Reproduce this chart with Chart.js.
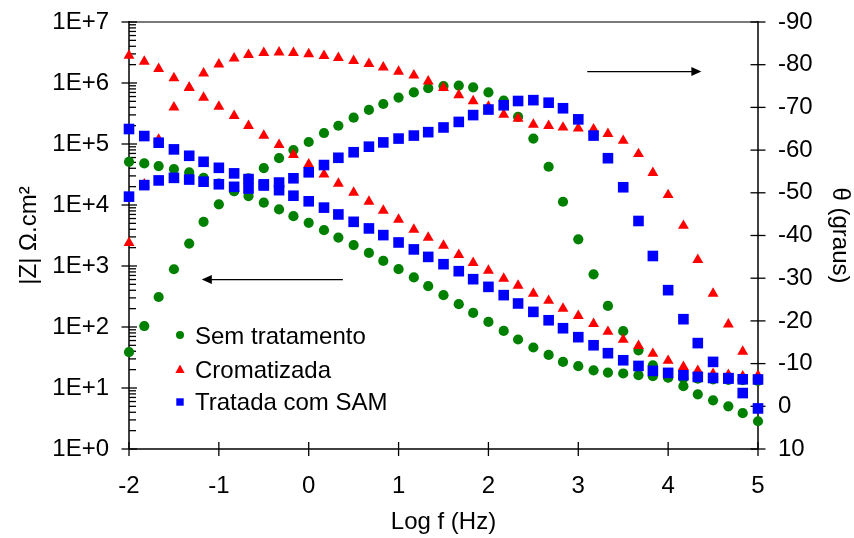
<!DOCTYPE html>
<html>
<head>
<meta charset="utf-8">
<script src="https://cdn.jsdelivr.net/npm/chart.js@4.4.1/dist/chart.umd.min.js"></script>
<style>
html,body{margin:0;padding:0;background:#fff;}
#wrap{width:854px;height:538px;position:relative;}
</style>
</head>
<body>
<div id="wrap"><canvas id="c" width="854" height="538"></canvas></div>
<script>
// ---- data (log frequency, |Z| in ohm.cm2, phase in degrees) ----
const logF = [-2.00,-1.83,-1.67,-1.50,-1.33,-1.17,-1.00,-0.83,-0.67,-0.50,-0.33,-0.17,0.00,0.17,0.33,0.50,0.67,0.83,1.00,1.17,1.33,1.50,1.67,1.83,2.00,2.17,2.33,2.50,2.67,2.83,3.00,3.17,3.33,3.50,3.67,3.83,4.00,4.17,4.33,4.50,4.67,4.83,5.00];

const zSem = [5.11e4,4.81e4,4.34e4,3.88e4,3.42e4,2.79e4,2.24e4,1.69e4,1.40e4,1.09e4,8460,6570,5100,3870,2920,2200,1640,1210,887,649,467,333,237,170,121,86.3,62.4,46.1,34.8,26.8,22.8,19.5,17.9,17.3,16.2,15.6,14.9,14.5,14.2,13.9,13.6,13.4,13.1];
const pSem = [-12.7,-18.8,-25.6,-32.1,-38.1,-43.2,-47.3,-50.4,-53.4,-55.8,-58.1,-60.0,-61.9,-64.0,-65.7,-67.6,-69.4,-70.8,-72.3,-73.5,-74.5,-75.0,-75.1,-74.7,-73.5,-71.6,-67.8,-62.7,-56.1,-47.9,-39.1,-30.9,-23.5,-17.6,-13.1,-9.6,-6.7,-4.7,-2.8,-1.4,0.0,1.6,3.5];

const zCrom = [2.82e6,2.25e6,1.71e6,1.20e6,8.42e5,5.78e5,4.11e5,2.89e5,1.98e5,1.37e5,9.68e4,6.63e4,4.65e4,3.18e4,2.24e4,1.60e4,1.14e4,8090,5750,3940,2920,2160,1530,1130,839,620,476,352,270,200,153,113,83.7,61.9,49.3,36.5,28.0,22.3,19.2,17.1,16.5,15.6,15.3];
const pCrom = [-38.3,-52.0,-62.5,-70.0,-74.6,-78.0,-80.1,-81.5,-82.3,-82.8,-82.9,-82.8,-82.5,-82.1,-81.6,-80.9,-80.2,-79.4,-78.4,-77.5,-76.1,-74.6,-72.9,-71.5,-70.2,-68.3,-67.4,-66.0,-65.7,-65.3,-65.1,-64.9,-63.8,-62.2,-59.1,-54.7,-49.5,-42.3,-34.3,-26.4,-19.2,-12.8,-7.2];

const zSAM = [1.76e5,1.35e5,1.05e5,8.16e4,6.41e4,5.11e4,4.07e4,3.30e4,2.66e4,2.18e4,1.75e4,1.42e4,1.15e4,9060,7000,5300,4130,3210,2430,1870,1410,1070,822,608,455,333,243,177,129,95.5,68.1,50.2,37.2,28.5,23.0,19.1,17.7,16.2,15.2,14.6,14.3,13.9,13.8];
const pSAM = [-49.1,-51.8,-52.9,-53.5,-53.1,-52.6,-52.0,-51.4,-51.0,-51.7,-52.4,-53.4,-54.8,-56.5,-58.2,-59.5,-60.8,-61.8,-62.7,-63.4,-64.2,-65.3,-66.6,-68.2,-69.5,-70.5,-71.5,-71.7,-71.1,-69.8,-67.2,-63.4,-58.1,-51.3,-43.4,-35.2,-27.2,-20.4,-14.8,-10.4,-6.6,-3.1,0.5];

const seriesNames = ['Sem tratamento','Cromatizada','Tratada com SAM'];
const fTicks = [-2,-1,0,1,2,3,4,5];
const zTicks = [1,10,100,1e3,1e4,1e5,1e6,1e7];
const pTicks = [-90,-80,-70,-60,-50,-40,-30,-20,-10,0,10];

const GREEN = 'rgb(0,128,0)', RED = '#ff0000', BLUE = '#0000ff';
const FONT = '"Liberation Sans", Arial, Helvetica, sans-serif';

const pts = arr => logF.map((x, i) => ({x: x, y: arr[i]}));
function ds(label, arr, axis, style, r, color, order) {
  return {label, data: pts(arr), yAxisID: axis, pointStyle: style, pointRadius: r, pointHoverRadius: r,
    backgroundColor: color, borderColor: color, pointBorderWidth: 0, borderWidth: 0, showLine: false, clip: false, order};
}

const decor = {
  id: 'decor',
  beforeDatasetsDraw(chart) {
    const {ctx, chartArea: a, scales} = chart;
    const sx = scales.x, sz = scales.yZ, sp = scales.yP;
    const seg = (x1, y1, x2, y2) => { ctx.beginPath(); ctx.moveTo(x1, y1); ctx.lineTo(x2, y2); ctx.stroke(); };
    ctx.save();
    ctx.strokeStyle = '#7a7a7a'; ctx.lineWidth = 2;
    seg(a.left, a.top, a.right, a.top);
    ctx.strokeStyle = '#000'; ctx.lineWidth = 1.5;
    seg(a.left, a.top - 1, a.left, a.bottom);
    seg(a.right, a.top - 1, a.right, a.bottom);
    seg(a.left, a.bottom, a.right, a.bottom);
    ctx.lineWidth = 1.3;
    zTicks.forEach((v, k) => {
      const p = sz.getPixelForValue(v);
      seg(a.left - 7.5, p, a.left + 8, p);
      if (k < zTicks.length - 1) {
        for (let m = 2; m <= 9; m++) {
          const q = sz.getPixelForValue(m * v);
          seg(a.left, q, a.left + 7, q);
        }
      }
    });
    pTicks.forEach(v => { const p = sp.getPixelForValue(v); seg(a.right - 7.5, p, a.right + 7.5, p); });
    fTicks.forEach(v => { const p = sx.getPixelForValue(v); seg(p, a.bottom - 7, p, a.bottom + 7); });
    ctx.restore();
  },
  afterDatasetsDraw(chart) {
    const {ctx, chartArea: a, scales} = chart;
    const sx = scales.x, sz = scales.yZ, sp = scales.yP;
    ctx.save();
    function arrow(xTail, xHead, y) {
      const dir = xHead > xTail ? 1 : -1;
      ctx.strokeStyle = '#000'; ctx.fillStyle = '#000'; ctx.lineWidth = 1.3;
      ctx.beginPath(); ctx.moveTo(xTail, y); ctx.lineTo(xHead - dir * 8, y); ctx.stroke();
      ctx.beginPath(); ctx.moveTo(xHead, y); ctx.lineTo(xHead - dir * 10, y - 4.5); ctx.lineTo(xHead - dir * 10, y + 4.5); ctx.closePath(); ctx.fill();
    }
    arrow(sx.getPixelForValue(0.38), sx.getPixelForValue(-1.19), sz.getPixelForValue(600));
    arrow(sx.getPixelForValue(3.10), sx.getPixelForValue(4.37), sp.getPixelForValue(-78.4));
    // legend
    const lx = a.left + 51, tx = a.left + 66;
    const rows = [335, 369.5, 402];
    const base = [344.3, 377.7, 410];
    ctx.font = '24px ' + FONT; ctx.textBaseline = 'alphabetic'; ctx.textAlign = 'left';
    ctx.fillStyle = GREEN; ctx.beginPath(); ctx.arc(lx, rows[0], 4, 0, Math.PI * 2); ctx.fill();
    ctx.fillStyle = RED; ctx.beginPath();
    ctx.moveTo(lx, rows[1] - 5); ctx.lineTo(lx + 4.6, rows[1] + 3.5); ctx.lineTo(lx - 4.6, rows[1] + 3.5); ctx.closePath(); ctx.fill();
    ctx.fillStyle = BLUE; ctx.fillRect(lx - 3.7, rows[2] - 3.7, 7.4, 7.4);
    ctx.fillStyle = '#000';
    seriesNames.forEach((n, i) => ctx.fillText(n, tx, base[i]));
    ctx.restore();
  }
};

Chart.defaults.font.family = FONT;
Chart.defaults.font.size = 24;
Chart.defaults.color = '#000';

new Chart(document.getElementById('c'), {
  type: 'scatter',
  data: {
    datasets: [
      ds(seriesNames[2] + ' |Z|', zSAM, 'yZ', 'rect', 7.5, BLUE, 0),
      ds(seriesNames[2] + ' θ', pSAM, 'yP', 'rect', 7.5, BLUE, 0),
      ds(seriesNames[1] + ' |Z|', zCrom, 'yZ', 'triangle', 6.3, RED, 1),
      ds(seriesNames[1] + ' θ', pCrom, 'yP', 'triangle', 6.3, RED, 1),
      ds(seriesNames[0] + ' |Z|', zSem, 'yZ', 'circle', 5.1, GREEN, 2),
      ds(seriesNames[0] + ' θ', pSem, 'yP', 'circle', 5.1, GREEN, 2)
    ]
  },
  options: {
    responsive: false,
    animation: false,
    devicePixelRatio: 1,
    layout: {padding: {top: 22, left: 0, right: 0, bottom: 0}},
    plugins: {legend: {display: false}, tooltip: {enabled: false}},
    scales: {
      x: {
        type: 'linear', position: 'bottom', min: -2, max: 5,
        afterBuildTicks: s => { s.ticks = fTicks.map(v => ({value: v})); },
        afterFit: s => { s.height = 89; s.paddingLeft = 0; s.paddingRight = 0; },
        grid: {display: false, drawTicks: false}, border: {display: false},
        ticks: {padding: 23, autoSkip: false, maxRotation: 0, color: '#000', callback: v => String(v)},
        title: {display: true, text: 'Log f (Hz)', color: '#000', padding: {top: 0, bottom: 1}}
      },
      yZ: {
        type: 'logarithmic', position: 'left', min: 1, max: 1e7,
        afterBuildTicks: s => { s.ticks = zTicks.map(v => ({value: v})); },
        afterFit: s => { s.width = 129; s.paddingTop = 0; s.paddingBottom = 0; },
        grid: {display: false, drawTicks: false}, border: {display: false},
        ticks: {padding: 20, autoSkip: false, color: '#000', callback: v => '1E+' + Math.round(Math.log10(v))},
        title: {display: true, text: '|Z| Ω.cm²', color: '#000', padding: {top: 15, bottom: 0}}
      },
      yP: {
        type: 'linear', position: 'right', min: -90, max: 10, reverse: true,
        afterBuildTicks: s => { s.ticks = pTicks.map(v => ({value: v})); },
        afterFit: s => { s.width = 96; s.paddingTop = 0; s.paddingBottom = 0; },
        grid: {display: false, drawTicks: false}, border: {display: false},
        ticks: {padding: 20, autoSkip: false, color: '#000', callback: v => String(v)},
        title: {display: true, text: 'θ (graus)', color: '#000', padding: {top: 0, bottom: 0}}
      }
    }
  },
  plugins: [decor]
});
</script>
</body>
</html>
